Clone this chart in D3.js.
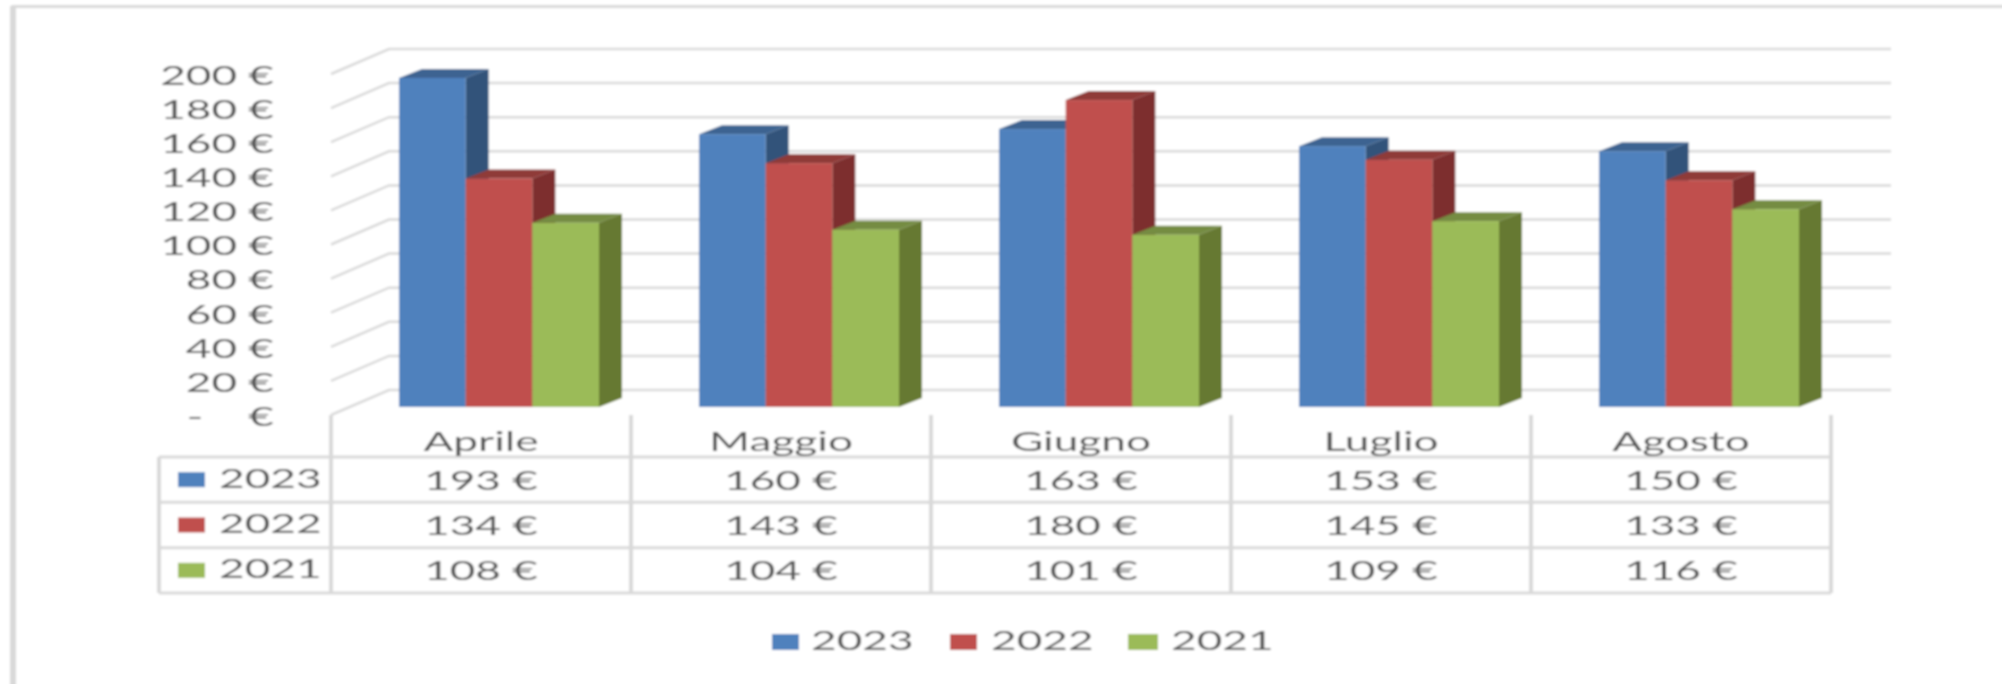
<!DOCTYPE html>
<html>
<head>
    <meta charset="utf-8">
    <title>Aprile - Agosto 2021-2023</title>
    <script src="https://d3js.org/d3.v7.min.js"></script>
    <style>
        body { margin: 0; background: #fff; }
        text { font-family: Lato, sans-serif; font-size: 26px; fill: #595959; }
    </style>
</head>
<body>
    <div id="chart"></div>
    <script>

        var months = ["Aprile", "Maggio", "Giugno", "Luglio", "Agosto"];
        var years = ["2023", "2022", "2021"];
        var values2023 = [193, 160, 163, 153, 150];
        var values2022 = [134, 143, 180, 145, 133];
        var values2021 = [108, 104, 101, 109, 116];
        var yTicks = [0, 20, 40, 60, 80, 100, 120, 140, 160, 180, 200];

        var seriesValues = [values2023, values2022, values2021];
        var faceColors = ["#4f81bd", "#c0504d", "#9bbb59"];
        var topColors = ["#3c6391", "#8f3a38", "#748c42"];
        var sideColors = ["#31527a", "#7d2f2d", "#667933"];

        var width = 2002, height = 684;
        var gridColor = "#d9d9d9";
        var stretch = 1.7; // the picture is wider than it should be, text too

        var wallDx = 58, wallDy = -25;   // floor depth
        var barDx = 23, barDy = -9;      // bar depth
        var barShiftX = 18, barShiftY = -8;

        var x = d3.scaleBand().domain(months).range([331, 1831]).paddingInner(1 / 3).paddingOuter(1 / 6);
        var inner = d3.scaleBand().domain(years).range([0, x.bandwidth()]);
        var y = d3.scaleLinear().domain([0, 200]).range([415, 74]);
        var rowY = d3.scaleBand().domain(years).range([457, 593]);
        var tableLeft = 159;

        var svg = d3.select("#chart")
            .append("svg")
            .attr("width", width)
            .attr("height", height)
            .style("display", "block");

        // filter area and frame run past the page so the blur does not fade at the edges
        var bleed = 20;
        svg.append("filter")
            .attr("id", "soft")
            .attr("filterUnits", "userSpaceOnUse")
            .attr("x", -bleed).attr("y", -bleed)
            .attr("width", width + 2 * bleed).attr("height", height + 2 * bleed)
            .append("feGaussianBlur")
            .attr("stdDeviation", 1);

        var root = svg.append("g").attr("filter", "url(#soft)");

        root.append("rect")
            .attr("x", -bleed).attr("y", -bleed)
            .attr("width", width + 2 * bleed).attr("height", height + 2 * bleed)
            .attr("fill", "#fff");

        // outer frame, only top and left show
        root.append("path")
            .attr("d", `M13,${height + bleed} V6.5 H${width + bleed}`)
            .attr("fill", "none")
            .attr("stroke", gridColor)
            .attr("stroke-width", 3);
        root.append("line")
            .attr("x1", 13).attr("x2", 13).attr("y1", 6).attr("y2", height + bleed)
            .attr("stroke", gridColor)
            .attr("stroke-width", 6);

        // gridlines
        var x0 = x.range()[0];
        var wallRight = 1891;
        root.append("g").selectAll("path")
            .data(yTicks)
            .enter()
            .append("path")
            .attr("d", function(d) {
                return `M${x0},${y(d)} L${x0 + wallDx},${y(d) + wallDy} H${wallRight}`;
            })
            .attr("fill", "none")
            .attr("stroke", gridColor)
            .attr("stroke-width", 2.5);

        // y axis
        var yAxis = d3.axisLeft(y)
            .tickValues(yTicks)
            .tickSize(0)
            .tickPadding(0)
            .tickFormat(function(d) { return d === 0 ? "-\u00a0\u00a0\u00a0\u00a0€" : d + " €"; });

        var yAxisG = root.append("g")
            .attr("transform", "translate(274, 2)")
            .call(yAxis);
        yAxisG.select(".domain").remove();
        yAxisG.selectAll("text")
            .attr("x", 0)
            .attr("transform", `scale(${stretch}, 1)`)
            .style("font-size", "26px")
            .style("font-family", "Lato, sans-serif")
            .style("fill", "#595959");

        // bars, left to right so the next face covers the previous side
        var barData = [];
        months.forEach(function(m, i) {
            years.forEach(function(s, j) {
                barData.push({ month: m, year: s, value: seriesValues[j][i], k: j });
            });
        });

        var bars = root.append("g").selectAll("g")
            .data(barData)
            .enter()
            .append("g")
            .attr("transform", function(d) {
                return `translate(${x(d.month) + inner(d.year) + barShiftX}, ${barShiftY})`;
            });

        var w = inner.bandwidth();

        bars.append("path")
            .attr("fill", function(d) { return sideColors[d.k]; })
            .attr("d", function(d) {
                return `M${w},${y(d.value)} l${barDx},${barDy} V${y(0) + barDy} L${w},${y(0)} Z`;
            });

        bars.append("path")
            .attr("fill", function(d) { return topColors[d.k]; })
            .attr("d", function(d) {
                return `M0,${y(d.value)} l${barDx},${barDy} h${w} l${-barDx},${-barDy} Z`;
            });

        bars.append("rect")
            .attr("width", w)
            .attr("y", function(d) { return y(d.value); })
            .attr("height", function(d) { return y(0) - y(d.value); })
            .attr("fill", function(d) { return faceColors[d.k]; });

        // data table lines
        var table = root.append("g")
            .attr("stroke", gridColor)
            .attr("fill", "none");

        var edges = months.map(function(m) { return x(m) - x.step() / 6; }).concat(x.range()[1]);

        table.selectAll(".col")
            .data(edges)
            .enter()
            .append("line")
            .attr("class", "col")
            .attr("x1", function(d) { return d; })
            .attr("x2", function(d) { return d; })
            .attr("y1", y(0))
            .attr("y2", rowY.range()[1])
            .attr("stroke-width", 4);

        table.selectAll(".row")
            .data(years.map(function(s) { return rowY(s); }).concat(rowY.range()[1]))
            .enter()
            .append("line")
            .attr("class", "row")
            .attr("x1", tableLeft)
            .attr("x2", x.range()[1])
            .attr("y1", function(d) { return d; })
            .attr("y2", function(d) { return d; })
            .attr("stroke-width", 3);

        table.append("line")
            .attr("x1", tableLeft).attr("x2", tableLeft)
            .attr("y1", rowY.range()[0]).attr("y2", rowY.range()[1])
            .attr("stroke-width", 4);

        function stretchedText(parent, px, py, anchor, label) {
            parent.append("text")
                .attr("transform", `translate(${px}, ${py}) scale(${stretch}, 1)`)
                .attr("text-anchor", anchor)
                .attr("dy", "0.35em")
                .text(label);
        }

        var labels = root.append("g");

        months.forEach(function(m, i) {
            var cx = x(m) + x.bandwidth() / 2;
            stretchedText(labels, cx, 442, "middle", m);
            years.forEach(function(s, j) {
                stretchedText(labels, cx, rowY(s) + rowY.bandwidth() / 2 + 1, "middle", seriesValues[j][i] + " €");
            });
        });

        // year keys in the table
        years.forEach(function(s, j) {
            var cy = rowY(s) + rowY.bandwidth() / 2;
            labels.append("rect")
                .attr("x", 178).attr("y", cy - 7.5)
                .attr("width", 27).attr("height", 15)
                .attr("fill", faceColors[j]);
            stretchedText(labels, 219, cy - 1, "start", s);
        });

        // legend at the bottom
        years.forEach(function(s, j) {
            labels.append("rect")
                .attr("x", 772 + j * 178).attr("y", 634)
                .attr("width", j === 2 ? 30 : 27).attr("height", 16)
                .attr("fill", faceColors[j]);
            stretchedText(labels, 811 + j * 180, 641, "start", s);
        });

    </script>
</body>
</html>
